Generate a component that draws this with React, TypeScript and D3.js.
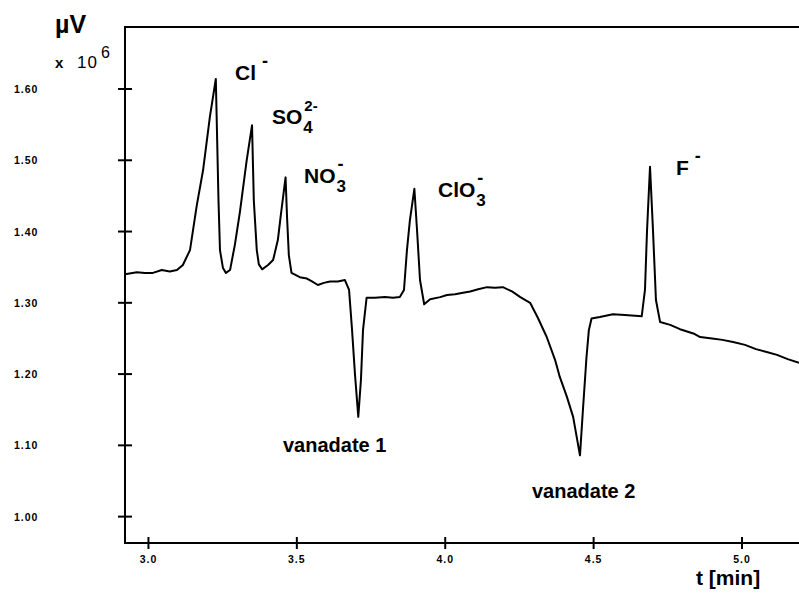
import React from "react";
import * as d3 from "d3";

// retention time (min) and detector signal (µV x 10^6)
const time = [
  2.921, 2.961, 2.988, 3.015, 3.045, 3.072, 3.096, 3.116, 3.14, 3.163, 3.184, 3.207, 3.227, 3.236, 3.241,
  3.251, 3.261, 3.275, 3.291, 3.308, 3.331, 3.349, 3.355, 3.365, 3.372, 3.383, 3.403, 3.42, 3.436, 3.446,
  3.462, 3.467, 3.473, 3.482, 3.51, 3.534, 3.551, 3.571, 3.591, 3.612, 3.638, 3.662, 3.676, 3.686, 3.696,
  3.707, 3.716, 3.723, 3.735, 3.763, 3.797, 3.824, 3.847, 3.861, 3.871, 3.881, 3.896, 3.905, 3.915, 3.929,
  3.949, 3.983, 4.006, 4.033, 4.06, 4.084, 4.111, 4.141, 4.167, 4.194, 4.225, 4.253, 4.286, 4.312, 4.342,
  4.37, 4.386, 4.41, 4.431, 4.454, 4.464, 4.476, 4.484, 4.493, 4.521, 4.565, 4.605, 4.64, 4.662, 4.673,
  4.68, 4.69, 4.7, 4.71, 4.724, 4.758, 4.791, 4.836, 4.859, 4.899, 4.934, 4.97, 5.01, 5.047, 5.083,
  5.118, 5.154, 5.192,
];
const signal = [
  1.34, 1.343, 1.342, 1.342, 1.346, 1.344, 1.346, 1.353, 1.374, 1.437, 1.486, 1.561, 1.614, 1.444, 1.374,
  1.349, 1.342, 1.346, 1.381, 1.427, 1.5, 1.549, 1.444, 1.374, 1.354, 1.347, 1.353, 1.36, 1.388, 1.423,
  1.476, 1.42, 1.367, 1.342, 1.336, 1.334, 1.33, 1.325, 1.328, 1.33, 1.33, 1.332, 1.318, 1.262, 1.199,
  1.14, 1.192, 1.262, 1.307, 1.307, 1.308, 1.307, 1.308, 1.318, 1.374, 1.416, 1.46, 1.402, 1.332, 1.298,
  1.305, 1.308, 1.311, 1.312, 1.314, 1.316, 1.319, 1.322, 1.321, 1.322, 1.316, 1.308, 1.3, 1.279, 1.252,
  1.22, 1.196, 1.168, 1.14, 1.086, 1.15, 1.224, 1.262, 1.278, 1.28, 1.284, 1.283, 1.282, 1.281, 1.318,
  1.402, 1.491, 1.402, 1.304, 1.273, 1.269, 1.263, 1.257, 1.252, 1.25, 1.248, 1.245, 1.241, 1.235, 1.231,
  1.227, 1.221, 1.216,
];

const xTicks = [3.0, 3.5, 4.0, 4.5, 5.0];
const yTicks = [1.0, 1.1, 1.2, 1.3, 1.4, 1.5, 1.6];

const W = 799;
const H = 599;
const left = 125, right = 799, top = 27, bottom = 543;

const font = "'Liberation Sans', Arial, Helvetica, sans-serif";

// Arial bold advance widths (em) for the letters used in the ion labels
const adv: Record<string, number> = { C: 0.722, l: 0.278, S: 0.667, O: 0.778, N: 0.722, F: 0.611 };
const ionSize = 21;

function Ion({ x, y, base, sub, sup }: { x: number; y: number; base: string; sub?: string; sup?: string }) {
  const w = base.split("").reduce((s, c) => s + (adv[c] ?? 0.6), 0) * ionSize;
  return (
    <g fontFamily={font} fontWeight="bold" fill="#000">
      <text x={x} y={y} fontSize={ionSize}>{base}</text>
      {sub && <text x={x + w + 1} y={y + 9} fontSize={17}>{sub}</text>}
      {sup && (
        <text x={x + w + (sub ? 2 : 6)} y={y - 13} fontSize={sup === "-" ? 18 : 15}>
          {sup}
        </text>
      )}
    </g>
  );
}

export default function App() {
  const x = d3.scaleLinear().domain([2.921, 5.192]).range([left, right]);
  const y = d3.scaleLinear().domain([0.963, 1.687]).range([bottom, top]);

  const pts = time.map((t, i) => [t, signal[i]] as [number, number]);
  const line = d3.line<[number, number]>().x((d) => x(d[0])).y((d) => y(d[1]));

  return (
    <svg width={W} height={H} style={{ position: "absolute", left: 0, top: 0, background: "#fff" }}>
      {/* frame: left axis, top rule, bottom axis */}
      <path
        d={`M${right},${top}H${left}V${bottom}H${right}`}
        fill="none"
        stroke="#000"
        strokeWidth={2}
      />
      {yTicks.map((v) => (
        <g key={v}>
          <line x1={left - 7} x2={left + 7} y1={y(v)} y2={y(v)} stroke="#000" strokeWidth={2} />
          <text x={14} y={y(v) + 4} fontFamily={font} fontWeight="bold" fontSize={10.5} letterSpacing={1}>
            {v.toFixed(2)}
          </text>
        </g>
      ))}
      {xTicks.map((v) => (
        <g key={v}>
          <line x1={x(v)} x2={x(v)} y1={bottom - 6} y2={bottom + 6} stroke="#000" strokeWidth={2} />
          <text x={x(v)} y={bottom + 20} textAnchor="middle" fontFamily={font} fontWeight="bold" fontSize={10.5} letterSpacing={1}>
            {v.toFixed(1)}
          </text>
        </g>
      ))}

      <path d={line(pts) ?? ""} fill="none" stroke="#000" strokeWidth={2} strokeLinejoin="round" />

      {/* units */}
      <text x={55} y={33} fontFamily={font} fontWeight="bold" fontSize={25}>µV</text>
      <text x={55} y={68} fontFamily={font} fontWeight="bold" fontSize={15}>x</text>
      <text x={77} y={68} fontFamily={font} fontSize={17} letterSpacing={1}>10</text>
      <text x={101} y={58} fontFamily={font} fontSize={16}>6</text>
      <text x={696} y={585} fontFamily={font} fontWeight="bold" fontSize={21}>t [min]</text>

      {/* peak labels */}
      <Ion x={235} y={80} base="Cl" sup="-" />
      <Ion x={272} y={124} base="SO" sub="4" sup="2-" />
      <Ion x={304} y={183} base="NO" sub="3" sup="-" />
      <Ion x={438} y={197} base="ClO" sub="3" sup="-" />
      <Ion x={676} y={175} base="F" sup="-" />
      <text x={283} y={452} fontFamily={font} fontWeight="bold" fontSize={20}>vanadate 1</text>
      <text x={532} y={498} fontFamily={font} fontWeight="bold" fontSize={20}>vanadate 2</text>
    </svg>
  );
}
